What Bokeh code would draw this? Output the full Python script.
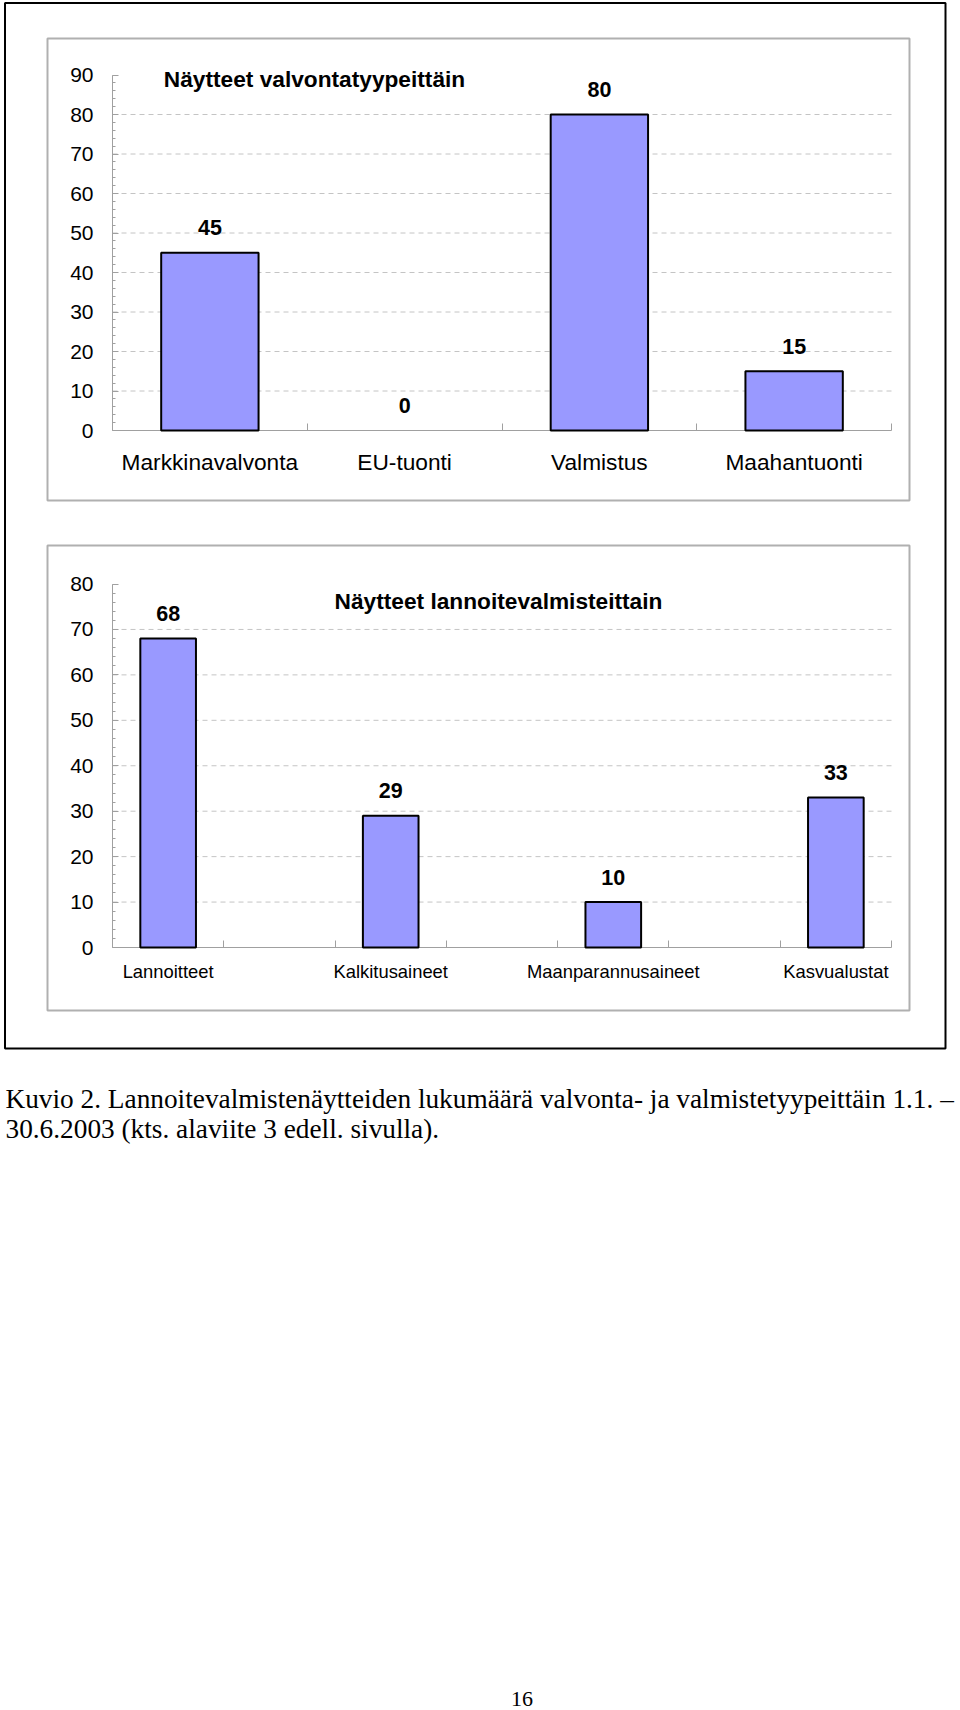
from bokeh.plotting import figure
from bokeh.models import Range1d, LinearAxis, FixedTicker, ColumnDataSource
from bokeh.core.properties import value
from bokeh.embed import file_html
from bokeh.resources import INLINE

# ---------------- data ----------------
top_title = "Näytteet valvontatyypeittäin"
top_categories = ["Markkinavalvonta", "EU-tuonti", "Valmistus", "Maahantuonti"]
top_values = [45, 0, 80, 15]
top_y_ticks = [0, 10, 20, 30, 40, 50, 60, 70, 80, 90]

bottom_title = "Näytteet lannoitevalmisteittain"
bottom_categories = ["Lannoitteet", "Kalkitusaineet", "Maanparannusaineet", "Kasvualustat"]
bottom_values = [68, 29, 10, 33]
bottom_y_ticks = [0, 10, 20, 30, 40, 50, 60, 70, 80]

caption_lines = [
    "Kuvio 2. Lannoitevalmistenäytteiden lukumäärä valvonta- ja valmistetyypeittäin 1.1. –",
    " 30.6.2003 (kts. alaviite 3 edell. sivulla).",
]
page_number = "16"

# ---------------- page canvas ----------------
W, H = 960, 1710
TXT_DY = 7.5  # text glyphs render slightly below their alphabetic anchor

FONT = value("Liberation Sans")
SERIF = value("Liberation Serif")
BAR_FILL = "#9999FF"
AXIS_GREY = "#a0a0a0"
GRID_GREY = "#c4c4c4"
PANEL_GREY = "#b0b0b0"

p = figure(width=W, height=H, x_range=Range1d(0, W), y_range=Range1d(H, 0),
           x_axis_type=None, y_axis_type=None, toolbar_location=None,
           output_backend="svg", min_border=0, outline_line_color=None,
           background_fill_color="white", border_fill_color="white")
p.grid.visible = False


def span_range(v_a, px_a, v_b, px_b, lo_px, hi_px):
    s = (v_b - v_a) / (px_b - px_a)
    return Range1d(start=v_a + (lo_px - px_a) * s, end=v_a + (hi_px - px_a) * s)


extra_x = {}
extra_y = {}

charts = [
    dict(name="top", title=top_title, cats=top_categories, vals=top_values,
         ticks=top_y_ticks, slots=len(top_categories), step=1,
         ax_l=112, ax_r=891, y0=430, ytop=74.5,
         panel=(47, 909, 38, 500), title_xy=(314, 86),
         cat_size="22.7px", cat_standoff=12),
    dict(name="bot", title=bottom_title, cats=bottom_categories, vals=bottom_values,
         ticks=bottom_y_ticks, slots=2 * len(bottom_categories) - 1, step=2,
         ax_l=112, ax_r=891, y0=947, ytop=583.5,
         panel=(47, 909, 545, 1010), title_xy=(498, 608),
         cat_size="18.4px", cat_standoff=7),
]

for c in charts:
    xr = c["name"] + "_x"
    yr = c["name"] + "_y"
    ymax = c["ticks"][-1]
    extra_x[xr] = span_range(0.5, c["ax_l"], c["slots"] + 0.5, c["ax_r"], 0, W)
    extra_y[yr] = span_range(0, c["y0"], ymax, c["ytop"], H, 0)

p.extra_x_ranges = extra_x
p.extra_y_ranges = extra_y

# outer black frame
p.quad(left=[4.5], right=[945], top=[2.5], bottom=[1048],
       fill_color=None, line_color="black", line_width=2)

for c in charts:
    xr = c["name"] + "_x"
    yr = c["name"] + "_y"
    ymax = c["ticks"][-1]
    n = c["slots"]
    xs = [1 + c["step"] * i for i in range(len(c["cats"]))]
    ppu = (c["y0"] - c["ytop"]) / ymax

    # grey panel
    l, r, t, b = c["panel"]
    p.quad(left=[l], right=[r], top=[t], bottom=[b],
           fill_color=None, line_color=PANEL_GREY, line_width=2)

    # dashed gridlines
    gy = [v for v in c["ticks"] if 0 < v < ymax]
    p.segment(x0=[0.5] * len(gy), x1=[n + 0.5] * len(gy), y0=gy, y1=gy,
              line_color=GRID_GREY, line_dash="5 4", line_width=1,
              x_range_name=xr, y_range_name=yr)

    # bars
    src = ColumnDataSource(dict(x=xs, top=c["vals"],
                                la=[1.0 if v > 0 else 0.0 for v in c["vals"]]))
    p.vbar(x="x", top="top", bottom=0, width=0.5, source=src,
           fill_color=BAR_FILL, line_color="black", line_alpha="la", line_width=2,
           x_range_name=xr, y_range_name=yr)

    # value labels
    p.text(x=xs, y=[v + (17.5 + TXT_DY) / ppu for v in c["vals"]],
           text=[str(v) for v in c["vals"]],
           text_align="center", text_baseline="alphabetic", text_font=FONT,
           text_font_style="bold", text_font_size="21.5px", text_color="black",
           x_range_name=xr, y_range_name=yr)

    # y axis
    yax = LinearAxis(x_range_name=xr, y_range_name=yr, fixed_location=0.5,
                     bounds=(0, ymax),
                     ticker=FixedTicker(ticks=c["ticks"],
                                        minor_ticks=list(range(0, ymax + 1, 2))))
    yax.axis_line_color = AXIS_GREY
    yax.major_tick_line_color = AXIS_GREY
    yax.minor_tick_line_color = AXIS_GREY
    yax.major_tick_in = 6
    yax.major_tick_out = 0
    yax.minor_tick_in = 3
    yax.minor_tick_out = 0
    yax.major_label_standoff = 19
    yax.major_label_text_font = "Liberation Sans"
    yax.major_label_text_font_size = "21px"
    yax.major_label_text_color = "black"
    p.add_layout(yax, "left")

    # x axis (category boundaries as ticks)
    xax = LinearAxis(x_range_name=xr, y_range_name=yr, fixed_location=0,
                     bounds=(0.5, n + 0.5),
                     ticker=FixedTicker(ticks=xs,
                                        minor_ticks=[k + 0.5 for k in range(1, n + 1)]))
    xax.major_label_overrides = {x: name for x, name in zip(xs, c["cats"])}
    xax.axis_line_color = AXIS_GREY
    xax.major_tick_line_color = None
    xax.minor_tick_line_color = AXIS_GREY
    xax.minor_tick_in = 7
    xax.minor_tick_out = 0
    xax.major_label_standoff = c["cat_standoff"]
    xax.major_label_text_font = "Liberation Sans"
    xax.major_label_text_font_size = c["cat_size"]
    xax.major_label_text_color = "black"
    xax.level = "underlay"
    p.add_layout(xax, "below")

    # chart title
    tx, ty = c["title_xy"]
    p.text(x=[tx], y=[ty - TXT_DY], text=[c["title"]], text_align="center",
           text_baseline="alphabetic", text_font=FONT, text_font_style="bold",
           text_font_size="22.7px", text_color="black")

# caption
p.text(x=[5, 5], y=[1106.7 - 8, 1136 - 8], text=caption_lines,
       text_align="left", text_baseline="alphabetic", text_font=SERIF,
       text_font_size="27.3px", text_color="black")

# page number
p.text(x=[521.5], y=[1706 - TXT_DY], text=[page_number], text_align="center",
       text_baseline="alphabetic", text_font=SERIF, text_font_size="22px",
       text_color="black")

open("out.html", "w").write(file_html(p, INLINE))
